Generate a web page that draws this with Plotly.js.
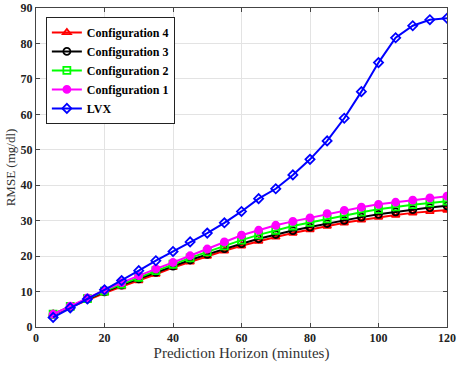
<!DOCTYPE html>
<html>
<head>
<meta charset="utf-8">
<script src="https://cdn.plot.ly/plotly-3.0.1.min.js"></script>
<style>
  html, body { margin: 0; padding: 0; background: #fff; }
  #plot { width: 457px; height: 365px; }
</style>
</head>
<body>
<div id="plot"></div>
<script>
// prediction horizon (minutes)
var horizon = [5, 10, 15, 20, 25, 30, 35, 40, 45, 50, 55, 60,
               65, 70, 75, 80, 85, 90, 95, 100, 105, 110, 115, 120];

// RMSE (mg/dl) per model
var config4 = [3.6, 5.6, 7.7, 9.6, 11.4, 13.1, 14.9, 16.8, 18.4, 20.0, 21.5, 22.9,
               24.2, 25.4, 26.5, 27.5, 28.5, 29.4, 30.2, 31.0, 31.6, 32.2, 32.6, 33.0];
var config3 = [3.6, 5.7, 7.9, 9.9, 11.8, 13.6, 15.4, 17.2, 18.9, 20.5, 22.1, 23.5,
               24.9, 26.1, 27.2, 28.2, 29.2, 30.1, 31.0, 31.8, 32.5, 33.1, 33.7, 34.2];
var config2 = [3.6, 5.8, 8.0, 10.1, 12.1, 14.0, 15.9, 17.7, 19.5, 21.2, 22.9, 24.5,
               26.0, 27.3, 28.5, 29.5, 30.5, 31.5, 32.4, 33.2, 33.9, 34.5, 35.0, 35.5];
var config1 = [3.6, 5.9, 8.2, 10.4, 12.5, 14.5, 16.4, 18.2, 20.1, 22.0, 24.0, 25.9,
               27.3, 28.7, 29.8, 30.8, 32.0, 32.9, 33.8, 34.6, 35.2, 35.8, 36.4, 36.9];
var lvx     = [2.7, 5.4, 7.9, 10.5, 13.1, 15.9, 18.7, 21.3, 24.0, 26.5, 29.4, 32.6,
               36.2, 39.0, 42.9, 47.3, 52.5, 58.9, 66.4, 74.6, 81.6, 85.0, 86.7, 87.1];

var names = ["Configuration 4", "Configuration 3", "Configuration 2", "Configuration 1", "LVX"];

var serif = "Liberation Serif";

function makeTrace(y, name, color, symbol) {
  return {
    x: horizon,
    y: y,
    name: name,
    type: "scatter",
    mode: "lines+markers",
    line: {color: color, width: 2},
    marker: {symbol: symbol, size: 7, color: color, line: {color: color, width: 1.8}}
  };
}

var data = [
  makeTrace(config4, names[0], "#ff0000", "triangle-up-open"),
  makeTrace(config3, names[1], "#000000", "circle-open"),
  makeTrace(config2, names[2], "#00ff00", "square-open"),
  makeTrace(config1, names[3], "#ff00ff", "circle"),
  makeTrace(lvx, names[4], "#0000ff", "diamond-open")
];

var axisCommon = {
  showgrid: true,
  gridcolor: "#e3e3e3",
  gridwidth: 1,
  zeroline: false,
  showline: true,
  linecolor: "#444",
  linewidth: 1,
  mirror: "ticks",
  ticks: "inside",
  ticklen: 4,
  tickcolor: "#444",
  ticklabeloverflow: "allow",
  tickfont: {family: serif, size: 12, color: "#222", weight: "bold"}
};

var layout = {
  width: 457,
  height: 365,
  margin: {l: 36, r: 10, t: 8, b: 38},
  paper_bgcolor: "#fff",
  plot_bgcolor: "#fff",
  showlegend: true,
  legend: {
    x: 0.024, y: 0.972, xanchor: "left", yanchor: "top",
    bgcolor: "#fff", bordercolor: "#222", borderwidth: 1,
    font: {family: serif, size: 12, color: "#000", weight: "bold"},
    itemwidth: 30,
    tracegroupgap: 0
  },
  xaxis: Object.assign({}, axisCommon, {
    range: [0, 120],
    dtick: 20,
    title: {text: "Prediction Horizon (minutes)", standoff: 2,
            font: {family: serif, size: 15, color: "#333"}}
  }),
  yaxis: Object.assign({}, axisCommon, {
    range: [0, 90],
    dtick: 10,
    title: {text: "RMSE (mg/dl)", standoff: 2,
            font: {family: serif, size: 13, color: "#333"}}
  })
};

Plotly.newPlot("plot", data, layout, {displayModeBar: false, staticPlot: true});
</script>
</body>
</html>
